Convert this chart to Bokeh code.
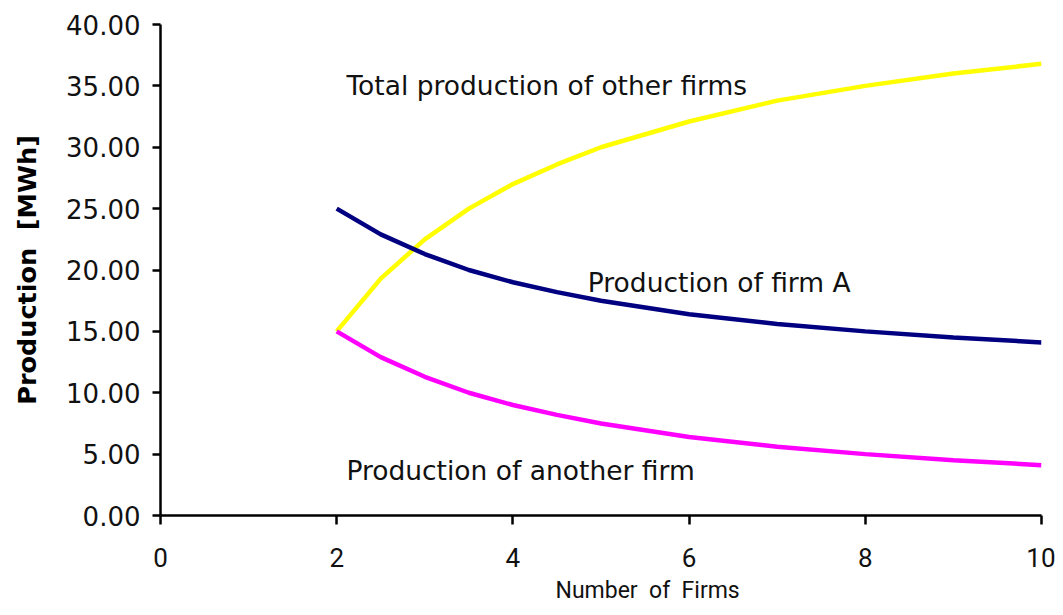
from bokeh.plotting import figure
from bokeh.models import Range1d, FixedTicker, Title, CustomJSTickFormatter
from bokeh.models import Label
from bokeh.embed import file_html
from bokeh.resources import INLINE

# Data
n_firms = [2, 2.5, 3, 3.5, 4, 4.5, 5, 6, 7, 8, 9, 10]
firm_a = [25.0, 22.9, 21.3, 20.0, 19.0, 18.2, 17.5, 16.4, 15.6, 15.0, 14.5, 14.1]
another_firm = [15.0, 12.9, 11.3, 10.0, 9.0, 8.2, 7.5, 6.4, 5.6, 5.0, 4.5, 4.1]
total_other = [15.0, 19.3, 22.5, 25.0, 27.0, 28.6, 30.0, 32.1, 33.8, 35.0, 36.0, 36.8]

x_ticks = [0, 2, 4, 6, 8, 10]
y_ticks = [0, 5, 10, 15, 20, 25, 30, 35, 40]

NB = "\u00a0"

p = figure(width=1055, height=615, output_backend="svg", toolbar_location=None,
           x_range=Range1d(0, 10), y_range=Range1d(0, 40))
p.min_border_left = 160
p.min_border_right = 14
p.min_border_top = 24
p.min_border_bottom = 100
p.outline_line_color = None
p.xgrid.visible = False
p.ygrid.visible = False
p.background_fill_color = "white"

p.line(n_firms, total_other, line_color="#FFFF00", line_width=4.5)
p.line(n_firms, firm_a, line_color="#000080", line_width=4.5)
p.line(n_firms, another_firm, line_color="#FF00FF", line_width=4.5)

# Y axis
ya = p.yaxis[0]
ya.ticker = FixedTicker(ticks=y_ticks)
ya.formatter = CustomJSTickFormatter(code="return tick.toFixed(2);")
ya.minor_tick_line_color = None
ya.major_tick_in = 0
ya.major_tick_out = 8
ya.axis_line_width = 2.5
ya.major_tick_line_width = 2.5
ya.axis_line_color = "black"
ya.major_tick_line_color = "black"
ya.major_label_text_font = "DejaVu Sans"
ya.major_label_text_font_size = "26px"
ya.major_label_text_color = "#111111"
ya.major_label_standoff = 12
ya.axis_label = "Production" + NB + NB + "[MWh]"
ya.axis_label_text_font = "DejaVu Sans"
ya.axis_label_text_font_style = "bold"
ya.axis_label_text_font_size = "25.5px"
ya.axis_label_text_color = "black"
ya.axis_label_standoff = 21

# X axis
xa = p.xaxis[0]
xa.ticker = FixedTicker(ticks=x_ticks)
xa.minor_tick_line_color = None
xa.major_tick_in = 0
xa.major_tick_out = 9
xa.axis_line_width = 2.5
xa.major_tick_line_width = 2.5
xa.axis_line_color = "black"
xa.major_tick_line_color = "black"
xa.major_label_text_font = "Roboto"
xa.major_label_text_font_size = "26px"
xa.major_label_text_color = "#111111"
xa.major_label_standoff = 23

# X axis title (placed off-centre as in the reference)
p.add_layout(Title(text="Number" + NB + NB + "of" + NB + NB + "Firms", text_font="Roboto",
                   text_font_size="23px", text_font_style="normal",
                   align="left", offset=395, standoff=10,
                   text_color="#111111"), "below")

# Curve labels
for lx, ly, txt in [(2.11, 35.0, "Total production of other firms"),
                    (4.85, 19.0, "Production of firm A"),
                    (2.11, 3.67, "Production of another firm")]:
    p.add_layout(Label(x=lx, y=ly, text=txt, text_font="DejaVu Sans",
                       text_font_size="26.5px", text_baseline="alphabetic",
                       text_align="left", text_color="#111111"))

open("out.html", "w").write(file_html(p, INLINE))
